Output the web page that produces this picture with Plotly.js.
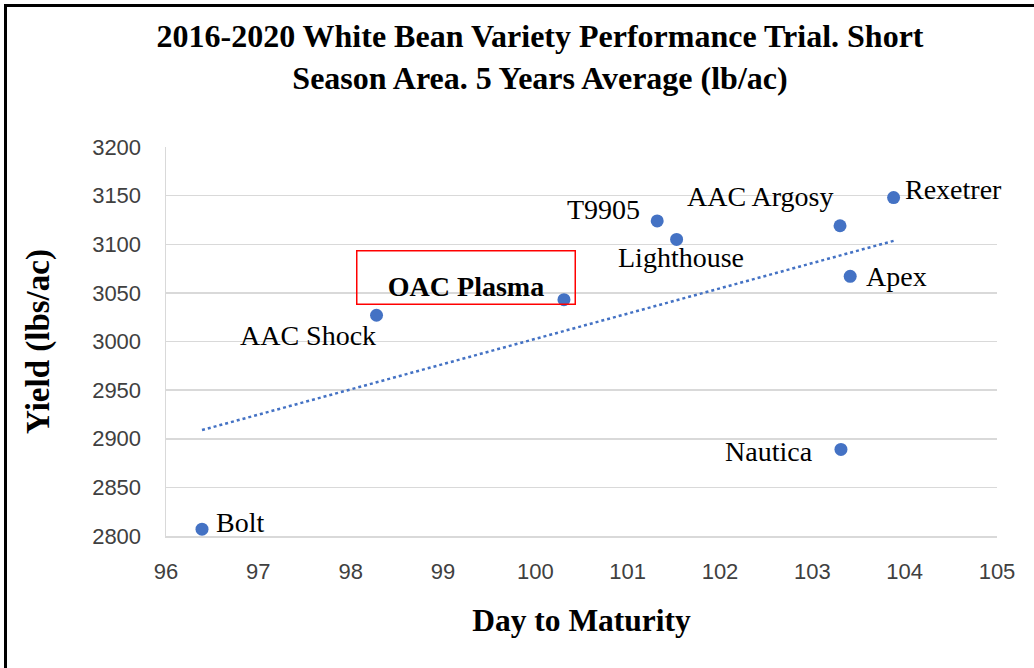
<!DOCTYPE html>
<html>
<head>
<meta charset="utf-8">
<script src="https://cdn.plot.ly/plotly-3.0.1.min.js"></script>
<style>
  html, body { margin: 0; padding: 0; background: #fff; }
  #wrap { position: relative; width: 1034px; height: 668px; overflow: hidden; }
  #chart { position: absolute; left: 0; top: 0; width: 1034px; height: 668px; }
  #frame { position: absolute; left: 4px; top: 4px; width: 1040px; height: 680px;
           border-left: 3px solid #000; border-top: 3px solid #000; pointer-events: none; }
</style>
</head>
<body>
<div id="wrap">
  <div id="chart"></div>
  <div id="frame"></div>
</div>
<script>
// ---- data ----
const varieties = ["Bolt", "AAC Shock", "OAC Plasma", "T9905", "Lighthouse", "AAC Argosy", "Rexetrer", "Apex", "Nautica"];
const daysToMaturity = [96.39, 98.28, 100.31, 101.32, 101.53, 103.30, 103.88, 103.41, 103.31];
const yieldLbsAc = [2807, 3027, 3043, 3124, 3105, 3119, 3148, 3067, 2889];
const xTickVals = [96, 97, 98, 99, 100, 101, 102, 103, 104, 105];
const yTickVals = [2800, 2850, 2900, 2950, 3000, 3050, 3100, 3150, 3200];
const highlighted = "OAC Plasma";

// ---- label placement (style only) ----
const labelStyle = {
  "Bolt":       { xanchor: "left",   xshift: 12,  yshift: 7 },
  "AAC Shock":  { xanchor: "right",  xshift: 1,   yshift: -20 },
  "T9905":      { xanchor: "right",  xshift: -15, yshift: 11 },
  "Lighthouse": { xanchor: "center", xshift: 4,   yshift: -18 },
  "AAC Argosy": { xanchor: "right",  xshift: -4,  yshift: 29 },
  "Rexetrer":   { xanchor: "left",   xshift: 9,   yshift: 8 },
  "Apex":       { xanchor: "left",   xshift: 14,  yshift: 0 },
  "Nautica":    { xanchor: "right",  xshift: -26, yshift: -2 }
};

// ---- linear trendline (least squares) from the data ----
const n = daysToMaturity.length;
const mx = daysToMaturity.reduce((a, b) => a + b, 0) / n;
const my = yieldLbsAc.reduce((a, b) => a + b, 0) / n;
let sxy = 0, sxx = 0;
for (let i = 0; i < n; i++) {
  sxy += (daysToMaturity[i] - mx) * (yieldLbsAc[i] - my);
  sxx += (daysToMaturity[i] - mx) ** 2;
}
const slope = sxy / sxx, intercept = my - slope * mx;
const xMin = Math.min(...daysToMaturity), xMax = Math.max(...daysToMaturity);
const trendX = [xMin, xMax];
const trendY = trendX.map(x => intercept + slope * x);

const blue = "#4472C4";
const serif = "Liberation Serif, Times New Roman, serif";
const sans = "Liberation Sans, Arial, sans-serif";

const traces = [
  {
    x: trendX, y: trendY, type: "scatter", mode: "lines",
    line: { color: blue, width: 2.5, dash: "dot" },
    hoverinfo: "skip", showlegend: false
  },
  {
    x: daysToMaturity, y: yieldLbsAc, type: "scatter", mode: "markers",
    text: varieties,
    marker: { color: blue, size: 13 },
    cliponaxis: false, showlegend: false
  }
];

const annotations = [];
varieties.forEach((name, i) => {
  if (name === highlighted) {
    annotations.push({
      x: daysToMaturity[i], y: yieldLbsAc[i], xref: "x", yref: "y",
      text: "<b>" + name + "</b>", showarrow: false,
      xanchor: "center", yanchor: "middle", xshift: -97.5, yshift: 22,
      width: 213, height: 48, valign: "bottom", align: "center",
      bordercolor: "#ff0000", borderwidth: 1.5, borderpad: 2,
      font: { family: serif, size: 28, color: "#000" }
    });
  } else {
    const s = labelStyle[name];
    annotations.push({
      x: daysToMaturity[i], y: yieldLbsAc[i], xref: "x", yref: "y",
      text: name, showarrow: false,
      xanchor: s.xanchor, yanchor: "middle", xshift: s.xshift, yshift: s.yshift,
      font: { family: serif, size: 28, color: "#000" }
    });
  }
});

const layout = {
  width: 1034, height: 668,
  paper_bgcolor: "#ffffff", plot_bgcolor: "#ffffff",
  margin: { l: 166, r: 37, t: 147, b: 132, pad: 0 },
  showlegend: false,
  title: {
    text: "<b>2016-2020 White Bean Variety Performance Trial. Short<br>Season Area. 5 Years Average (lb/ac)</b>",
    font: { family: serif, size: 32, color: "#000" },
    x: 540 / 1034, xref: "container", xanchor: "center",
    y: 1 - 47 / 668, yref: "container", yanchor: "top"
  },
  xaxis: {
    range: [96, 105], tickvals: xTickVals, ticktext: xTickVals.map(String),
    showgrid: false, zeroline: false,
    showline: true, linecolor: "#d9d9d9", linewidth: 1.5,
    ticks: "", ticklabelstandoff: 15,
    tickfont: { family: sans, size: 22, color: "#404040" },
    title: { text: "<b>Day to Maturity</b>", font: { family: serif, size: 31.5, color: "#000" }, standoff: 26 },
    automargin: false, fixedrange: true
  },
  yaxis: {
    range: [2800, 3200], tickvals: yTickVals, ticktext: yTickVals.map(String),
    showgrid: true, gridcolor: "#d9d9d9", gridwidth: 1.5, zeroline: false,
    showline: true, linecolor: "#d9d9d9", linewidth: 1.5,
    ticks: "", ticklabelstandoff: 19,
    tickfont: { family: sans, size: 22, color: "#404040" },
    title: { text: "<b>Yield (lbs/ac)</b>", font: { family: serif, size: 33, color: "#000" }, standoff: 32 },
    automargin: false, fixedrange: true
  },
  annotations: annotations
};

Plotly.newPlot("chart", traces, layout, { displayModeBar: false, staticPlot: true });
</script>
</body>
</html>
